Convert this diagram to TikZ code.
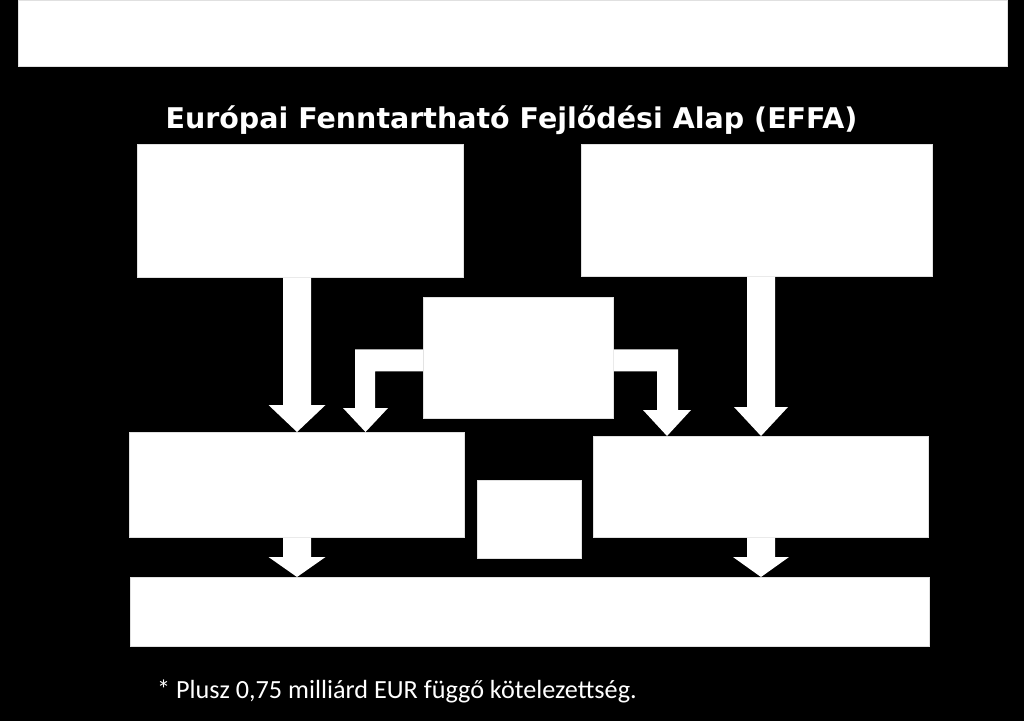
\documentclass[tikz,border=0pt]{standalone}
\usepackage{fontspec}
\usetikzlibrary{calc}
\newfontfamily\titlefont{DejaVu Sans}
\newfontfamily\notefont{Carlito}
\tikzset{
  box/.style={fill=white, draw=black!12, line width=0.6pt},
  arrowfill/.style={fill=white},
}
% block arrow straight down: #1 top node, #2 bottom node, #3 x centre, #4 shaft half width, #5 head half width, #6 head length
\newcommand\blockdown[6]{%
  \fill[arrowfill] let \p1=(#1.south), \p2=(#2.north) in
    (#3pt-#4pt,\y1) -- (#3pt+#4pt,\y1) -- (#3pt+#4pt,\y2+#6pt) -- (#3pt+#5pt,\y2+#6pt)
    -- (#3pt,\y2) -- (#3pt-#5pt,\y2+#6pt) -- (#3pt-#4pt,\y2+#6pt) -- cycle;}
\begin{document}
\begin{tikzpicture}[x=1pt,y=-1pt]
\fill[black] (0,0) rectangle (1024,721);
\useasboundingbox (0,0) rectangle (1024,721);
% boxes
\node[box, anchor=north west, minimum width=989pt, minimum height=66pt, inner sep=0pt] (banner) at (18,0) {};
\node[box, anchor=north west, minimum width=326pt, minimum height=133pt, inner sep=0pt] (tl) at (137,144) {};
\node[box, anchor=north west, minimum width=351pt, minimum height=132pt, inner sep=0pt] (tr) at (581,144) {};
\node[box, anchor=north west, minimum width=190pt, minimum height=121pt, inner sep=0pt] (mid) at (423,297) {};
\node[box, anchor=north west, minimum width=335pt, minimum height=105pt, inner sep=0pt] (ml) at (129,432) {};
\node[box, anchor=north west, minimum width=335pt, minimum height=101pt, inner sep=0pt] (mr) at (593,436) {};
\node[box, anchor=north west, minimum width=104pt, minimum height=78pt, inner sep=0pt] (sm) at (477,480) {};
\node[box, anchor=north west, minimum width=799pt, minimum height=69pt, inner sep=0pt] (bot) at (130,577) {};
% texts
\node[anchor=base, text=white, inner sep=0pt, font=\titlefont\bfseries\fontsize{28.5}{34}\selectfont] (title) at (511.5,128) {Európai Fenntartható Fejlődési Alap (EFFA)};
\node[anchor=base west, text=white, inner sep=0pt, font=\notefont\fontsize{26.2}{30}\selectfont] (note) at (157,698) {* Plusz 0,75 milliárd EUR függő kötelezettség.};
% straight block arrows
\blockdown{tl}{ml}{297}{14}{28.5}{27}
\blockdown{tr}{mr}{761}{14}{27}{29}
\blockdown{ml}{bot}{297}{14}{28.5}{20}
\blockdown{mr}{bot}{761}{14}{28}{20}
% bent block arrows from the middle box
\fill[arrowfill] let \p1=(mid.west), \p2=(ml.north) in
  (\x1,\y1+8.5pt) -- (355pt,\y1+8.5pt) -- (355pt,\y2+24pt) -- (343pt,\y2+24pt) -- (365.5pt,\y2)
  -- (388pt,\y2+24pt) -- (375pt,\y2+24pt) -- (375pt,\y1-13.5pt) -- (\x1,\y1-13.5pt) -- cycle;
\fill[arrowfill] let \p1=(mid.east), \p2=(mr.north) in
  (\x1,\y1+8.5pt) -- (678pt,\y1+8.5pt) -- (678pt,\y2+26pt) -- (691pt,\y2+26pt) -- (667pt,\y2)
  -- (643pt,\y2+26pt) -- (657pt,\y2+26pt) -- (657pt,\y1-13.5pt) -- (\x1,\y1-13.5pt) -- cycle;
\end{tikzpicture}
\end{document}
